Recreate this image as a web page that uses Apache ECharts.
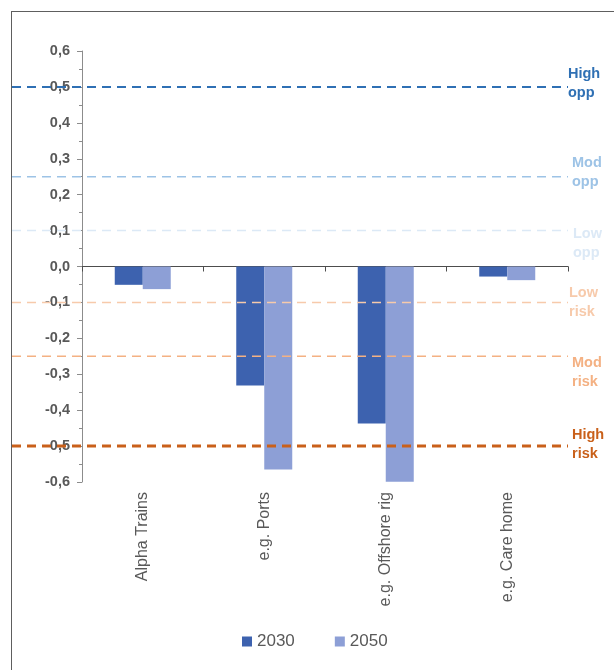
<!DOCTYPE html>
<html>
<head>
<meta charset="utf-8">
<script src="https://cdn.jsdelivr.net/npm/echarts@6/dist/echarts.min.js"></script>
<style>
  html, body { margin: 0; padding: 0; background: #ffffff; }
  #frame { position: absolute; left: 11px; top: 11px; width: 700px; height: 700px; border: 1px solid #5e5e5e; }
  #chart { position: absolute; left: 0; top: 0; width: 614px; height: 670px; }
</style>
</head>
<body>
<div id="frame"></div>
<div id="chart"></div>
<script>
// ---- data ----
const categories = ['Alpha Trains', 'e.g. Ports', 'e.g. Offshore rig', 'e.g. Care home'];
const seriesNames = ['2030', '2050'];
const values2030 = [-0.051, -0.331, -0.437, -0.028];
const values2050 = [-0.063, -0.565, -0.599, -0.038];
const thresholdNames = ['High\nopp', 'Mod\nopp', 'Low\nopp', 'Low\nrisk', 'Mod\nrisk', 'High\nrisk'];
const thresholdValues = [0.5, 0.25, 0.1, -0.1, -0.25, -0.5];
const yMin = -0.6, yMax = 0.6, yStep = 0.1;

// ---- styles ----
const FONT = 'Liberation Sans, Arial, sans-serif';
const barColors = ['#3D62AF', '#8D9FD6'];
const thrStyles = [
  { color: '#2F70B4', width: 2,   dash: [9, 6], dx: 0, dy: -3 },
  { color: '#9DC3E6', width: 1.5, dash: [9, 6], dx: 4, dy: -4 },
  { color: '#DCE9F6', width: 1.5, dash: [9, 6], dx: 5, dy: 13 },
  { color: '#F7CAAB', width: 1.5, dash: [9, 6], dx: 1, dy: 0 },
  { color: '#F4B183', width: 1.5, dash: [9, 6], dx: 4, dy: 16 },
  { color: '#C9601A', width: 3,   dash: [9, 6], dx: 4, dy: -2 }
];

const chart = echarts.init(document.getElementById('chart'), null, { renderer: 'canvas' });

const fmt = v => {
  const r = Math.round(v * 10) / 10;
  return (r === 0 ? 0 : r).toFixed(1).replace('.', ',');
};

const thresholdSeries = thresholdValues.map((v, i) => {
  const s = thrStyles[i];
  return {
    name: 'thr' + i,
    type: 'line',
    xAxisIndex: 2,
    yAxisIndex: 1,
    z: 5,
    silent: true,
    symbol: 'none',
    clip: false,
    animation: false,
    lineStyle: { color: s.color, width: s.width, type: s.dash },
    endLabel: {
      show: true,
      distance: 0,
      offset: [s.dx, s.dy],
      formatter: () => thresholdNames[i],
      color: s.color,
      fontFamily: FONT,
      fontWeight: 'bold',
      fontSize: 14.5,
      lineHeight: 19,
      align: 'left',
      verticalAlign: 'middle'
    },
    data: [[0, v], [1, v]]
  };
});

const option = {
  animation: false,
  textStyle: { fontFamily: FONT },
  legend: {
    data: seriesNames,
    left: 242,
    top: 633,
    padding: 0,
    icon: 'rect',
    itemWidth: 10,
    itemHeight: 10,
    itemGap: 40,
    textStyle: { fontSize: 17, color: '#595959', fontFamily: FONT }
  },
  grid: [
    { left: 82, right: 46, top: 51, bottom: 188 },
    { left: 12, right: 46, top: 51, bottom: 188 }
  ],
  xAxis: [
    {
      type: 'category',
      gridIndex: 0,
      data: categories,
      position: 'bottom',
      axisLine: { onZero: true, lineStyle: { color: '#4d4d4d', width: 1 } },
      axisTick: { show: true, length: 5, lineStyle: { color: '#4d4d4d' } },
      axisLabel: { show: false },
      splitLine: { show: false }
    },
    {
      type: 'category',
      gridIndex: 0,
      data: categories,
      position: 'bottom',
      axisLine: { show: false, onZero: false },
      axisTick: { show: false },
      axisLabel: {
        show: true,
        rotate: 90,
        margin: 10,
        interval: 0,
        fontSize: 16,
        color: '#595959',
        fontFamily: FONT
      },
      splitLine: { show: false }
    },
    {
      type: 'value',
      gridIndex: 1,
      min: 0,
      max: 1,
      show: false
    }
  ],
  yAxis: [
    {
      type: 'value',
      gridIndex: 0,
      min: yMin,
      max: yMax,
      interval: yStep,
      axisLine: { show: true, lineStyle: { color: '#8c8c8c', width: 1 } },
      axisTick: { show: true, length: 5, lineStyle: { color: '#8c8c8c' } },
      minorTick: { show: true, splitNumber: 2, length: 3, lineStyle: { color: '#8c8c8c' } },
      splitLine: { show: false },
      axisLabel: {
        formatter: fmt,
        fontSize: 14.5,
        fontWeight: 'bold',
        color: '#595959',
        margin: 12,
        fontFamily: FONT
      }
    },
    {
      type: 'value',
      gridIndex: 1,
      min: yMin,
      max: yMax,
      show: false
    }
  ],
  series: [
    {
      name: seriesNames[0],
      type: 'bar',
      xAxisIndex: 0,
      yAxisIndex: 0,
      data: values2030,
      barWidth: 28,
      barGap: '0%',
      itemStyle: { color: barColors[0] },
      z: 2
    },
    {
      name: seriesNames[1],
      type: 'bar',
      xAxisIndex: 0,
      yAxisIndex: 0,
      data: values2050,
      barWidth: 28,
      barGap: '0%',
      itemStyle: { color: barColors[1] },
      z: 2
    }
  ].concat(thresholdSeries)
};

chart.setOption(option);
</script>
</body>
</html>
